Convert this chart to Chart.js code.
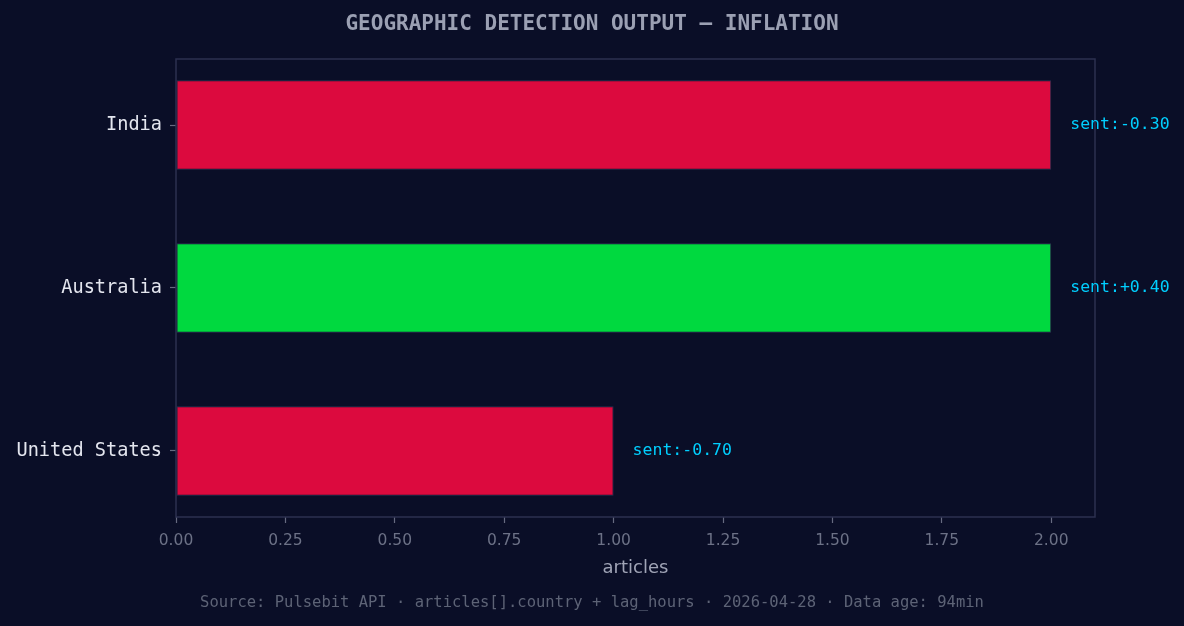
<!DOCTYPE html>
<html>
<head>
<meta charset="utf-8">
<script src="https://cdn.jsdelivr.net/npm/chart.js@4.4.1/dist/chart.umd.min.js"></script>
<style>
  html, body { margin: 0; padding: 0; background: #0a0e27; }
  #wrap { width: 1184px; height: 626px; }
</style>
</head>
<body>
<div id="wrap"><canvas id="myChart" width="1184" height="626"></canvas></div>
<script>
// dados (de baixo para cima)
const paises = ['United States', 'Australia', 'India'];
const artigos = [1, 2, 2];
const sentimento = [-0.70, 0.40, -0.30];
const cores = ['#dc0a3e', '#00d93f', '#dc0a3e'];
const xTicks = [0, 0.25, 0.5, 0.75, 1.0, 1.25, 1.5, 1.75, 2.0];

const titulo = 'GEOGRAPHIC DETECTION OUTPUT \u2014 INFLATION';
const rodape = 'Source: Pulsebit API \u00b7 articles[].country + lag_hours \u00b7 2026-04-28 \u00b7 Data age: 94min';

const mono = '"DejaVu Sans Mono", monospace';
const sans = '"DejaVu Sans", sans-serif';

// titulo, rodape, moldura e rotulos de sentimento
const extras = {
    id: 'extras',
    afterDraw(chart) {
        const ctx = chart.ctx;
        const a = chart.chartArea;
        ctx.save();
        ctx.strokeStyle = '#2c3150';
        ctx.lineWidth = 1.5;
        ctx.strokeRect(a.left, a.top, a.right - a.left, a.bottom - a.top);

        ctx.textAlign = 'center';
        ctx.textBaseline = 'middle';
        ctx.fillStyle = '#9ba0b3';
        ctx.font = 'bold 21px ' + mono;
        ctx.fillText(titulo, 592, 25);

        ctx.fillStyle = '#a0a4b6';
        ctx.font = '18px ' + sans;
        ctx.fillText('articles', (a.left + a.right) / 2, 568);

        ctx.fillStyle = '#5d6376';
        ctx.font = '15.5px ' + mono;
        ctx.fillText(rodape, 592, 603);

        const meta = chart.getDatasetMeta(0);
        ctx.textAlign = 'left';
        ctx.fillStyle = '#00cfff';
        ctx.font = '16.5px ' + mono;
        meta.data.forEach((bar, i) => {
            const s = sentimento[i];
            const txt = 'sent:' + (s > 0 ? '+' : '') + s.toFixed(2);
            ctx.fillText(txt, bar.x + 19, bar.y);
        });
        ctx.restore();
    }
};

var u = document.getElementById('myChart').getContext('2d');
var grafico = new Chart(u, {
    type: 'bar',
    data: {
        datasets: [{
            data: artigos.map((v, i) => ({ x: v, y: i })),
            backgroundColor: cores,
            borderColor: '#2c3150',
            borderWidth: 1,
            borderSkipped: false,
            categoryPercentage: 1,
            barPercentage: 0.55
        }]
    },
    options: {
        indexAxis: 'y',
        responsive: false,
        animation: false,
        layout: { padding: { left: 0, right: 89, top: 59, bottom: 0 } },
        plugins: { legend: { display: false }, tooltip: { enabled: false } },
        scales: {
            x: {
                type: 'linear',
                min: 0,
                max: 2.1,
                afterFit: s => { s.height = 109; },
                afterBuildTicks: s => { s.ticks = xTicks.map(v => ({ value: v })); },
                ticks: {
                    color: '#6c7186',
                    font: { family: '"DejaVu Sans"', size: 15.5 },
                    padding: 9,
                    callback: v => Number(v).toFixed(2)
                },
                grid: { drawOnChartArea: false, color: '#666b80', tickLength: 6, tickWidth: 1.2 },
                border: { display: false }
            },
            y: {
                type: 'linear',
                min: -0.405,
                max: 2.405,
                offset: false,
                afterFit: s => { s.width = 176; },
                afterBuildTicks: s => { s.ticks = paises.map((p, i) => ({ value: i })); },
                ticks: {
                    color: '#e4e6ef',
                    font: { family: '"DejaVu Sans Mono"', size: 18.6 },
                    padding: 8,
                    callback: v => paises[v]
                },
                grid: { offset: false, drawOnChartArea: false, color: '#666b80', tickLength: 6, tickWidth: 1.2 },
                border: { display: false }
            }
        }
    },
    plugins: [extras]
});
</script>
</body>
</html>
